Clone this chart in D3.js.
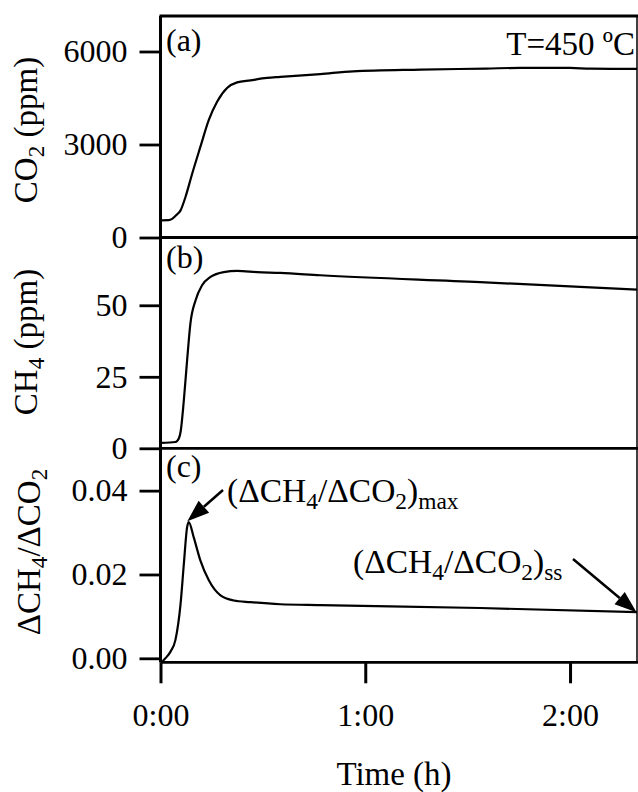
<!DOCTYPE html>
<html>
<head>
<meta charset="utf-8">
<script src="https://cdn.jsdelivr.net/npm/d3@7"></script>
<style>
  body { margin: 0; background: #fff; }
  text { font-family: "Liberation Serif", "Times New Roman", serif; fill: #000; }
</style>
</head>
<body>
<script>
const width = 638;
const height = 792;

// time in hours
const timeA = [0.005, 0.04, 0.057, 0.081, 0.098, 0.122, 0.155, 0.195, 0.236, 0.277, 0.325, 0.374, 0.439, 0.52, 0.585, 0.78, 0.94, 1.27, 1.59, 1.76, 2.0, 2.1, 2.327];
const co2 = [555, 560, 600, 746, 876, 1307, 2066, 2929, 3795, 4388, 4823, 5004, 5069, 5147, 5180, 5270, 5360, 5416, 5450, 5471, 5471, 5445, 5440];

const timeB = [0.005, 0.073, 0.09, 0.098, 0.114, 0.13, 0.146, 0.171, 0.203, 0.244, 0.309, 0.374, 0.472, 0.585, 0.78, 1.561, 2.327];
const ch4 = [1.9, 2.2, 3.5, 5.7, 16.8, 30.8, 43.6, 51.7, 57, 59.9, 61.6, 62, 61.6, 61.3, 60.5, 58.1, 55.5];

const timeC = [0.01, 0.024, 0.049, 0.073, 0.098, 0.114, 0.13, 0.138, 0.162, 0.195, 0.236, 0.293, 0.358, 0.439, 0.585, 0.78, 1.561, 2.327];
const ratio = [-0.0007, 0, 0.0016, 0.0044, 0.013, 0.0225, 0.0313, 0.0325, 0.0289, 0.0233, 0.0186, 0.015, 0.0138, 0.0134, 0.0129, 0.0127, 0.012, 0.011];

const xTicks = [0, 1, 2];
const xTickLabels = ["0:00", "1:00", "2:00"];
const co2Ticks = [0, 3000, 6000];
const ch4Ticks = [0, 25, 50];
const ratioTicks = [0, 0.02, 0.04];

const left = 160.5, right = 637;
const fontSize = 32;

const svg = d3.select("body").append("svg")
	.attr("width", width)
	.attr("height", height);

const x = d3.scaleLinear().domain([0, 2.327]).range([left, right]);

const panels = [
	{ id: "a", top: 16, bottom: 237.5, domain: [0, 7145], t: timeA, v: co2, ticks: co2Ticks, fmt: d3.format("d"), labelY: 35 },
	{ id: "b", top: 237.5, bottom: 448.3, domain: [0, 73.7], t: timeB, v: ch4, ticks: ch4Ticks, fmt: d3.format("d"), labelY: 30 },
	{ id: "c", top: 448.3, bottom: 662.3, domain: [-0.00095, 0.0501], t: timeC, v: ratio, ticks: ratioTicks, fmt: d3.format(".2f"), labelY: 29 }
];

panels.forEach(function (p) {
	p.y = d3.scaleLinear().domain(p.domain).range([p.bottom, p.top]);

	const ax = svg.append("g")
		.attr("transform", "translate(" + left + ",0)")
		.call(d3.axisLeft(p.y).tickValues(p.ticks).tickFormat(p.fmt).tickSize(21).tickPadding(12));
	ax.select(".domain").remove();
	ax.selectAll(".tick line").attr("stroke", "#000").attr("stroke-width", 2.8);
	ax.selectAll(".tick text").style("font-size", fontSize + "px").attr("fill", "#000");

	// panel bottom line
	svg.append("line")
		.attr("x1", left).attr("x2", right + 1)
		.attr("y1", p.bottom).attr("y2", p.bottom)
		.attr("stroke", "#000").attr("stroke-width", 2.8);

	const line = d3.line()
		.x(function (d, i) { return x(p.t[i]); })
		.y(function (d) { return p.y(d); })
		.curve(d3.curveMonotoneX);

	svg.append("path")
		.datum(p.v)
		.attr("d", line)
		.attr("fill", "none")
		.attr("stroke", "#000")
		.attr("stroke-width", 2.2);

	svg.append("text")
		.attr("x", 166)
		.attr("y", p.top + p.labelY)
		.style("font-size", fontSize + "px")
		.text("(" + p.id + ")");
});

// frame
svg.append("line").attr("x1", left - 1).attr("x2", right + 1).attr("y1", 16).attr("y2", 16)
	.attr("stroke", "#000").attr("stroke-width", 2.8);
svg.append("line").attr("x1", right).attr("x2", right).attr("y1", 16).attr("y2", 662)
	.attr("stroke", "#000").attr("stroke-width", 1.5);
svg.append("line").attr("x1", left).attr("x2", left).attr("y1", 16).attr("y2", 662.3)
	.attr("stroke", "#000").attr("stroke-width", 3);

// x axis
const xa = svg.append("g")
	.attr("transform", "translate(0,662.3)")
	.call(d3.axisBottom(x).tickValues(xTicks).tickFormat(function (d, i) { return xTickLabels[i]; }).tickSize(21).tickPadding(20));
xa.select(".domain").remove();
xa.selectAll(".tick line").attr("stroke", "#000").attr("stroke-width", 3);
xa.selectAll(".tick text").style("font-size", fontSize + "px").attr("fill", "#000");

svg.append("text")
	.attr("x", 394).attr("y", 785)
	.attr("text-anchor", "middle")
	.style("font-size", "33px")
	.text("Time (h)");

// text with subscripts; the baseline shift is undone on the next piece
function rich(sel, parts, size) {
	let shifted = 0;
	parts.forEach(function (p) {
		const ts = sel.append("tspan").text(p.t);
		if (p.sub) {
			ts.attr("dy", 7 - shifted).style("font-size", (size * 0.7) + "px");
			shifted = 7;
		} else if (shifted) {
			ts.attr("dy", -shifted);
			shifted = 0;
		}
	});
	return sel;
}

function yTitle(cx, cy, parts) {
	const t = svg.append("text")
		.attr("transform", "translate(" + cx + "," + cy + ") rotate(-90)")
		.attr("text-anchor", "middle")
		.style("font-size", "33px");
	rich(t, parts, 33);
}

yTitle(37, 130, [{ t: "CO" }, { t: "2", sub: true }, { t: " (ppm)" }]);
yTitle(37, 342, [{ t: "CH" }, { t: "4", sub: true }, { t: " (ppm)" }]);
yTitle(40, 552, [{ t: "\u0394CH" }, { t: "4", sub: true }, { t: "/\u0394CO" }, { t: "2", sub: true }]);

svg.append("text")
	.attr("x", 635).attr("y", 55)
	.attr("text-anchor", "end")
	.style("font-size", "33px")
	.text("T=450 \u00baC");

const yc = panels[2].y;
const annSize = 33.5;

rich(svg.append("text").attr("x", 227).attr("y", 502).style("font-size", annSize + "px"),
	[{ t: "(\u0394CH" }, { t: "4", sub: true }, { t: "/\u0394CO" }, { t: "2", sub: true }, { t: ")" }, { t: "max", sub: true }], annSize);
rich(svg.append("text").attr("x", 353).attr("y", 573).style("font-size", annSize + "px"),
	[{ t: "(\u0394CH" }, { t: "4", sub: true }, { t: "/\u0394CO" }, { t: "2", sub: true }, { t: ")" }, { t: "ss", sub: true }], annSize);

function arrow(tx, ty, fx, fy) {
	const dx = tx - fx, dy = ty - fy;
	const len = Math.sqrt(dx * dx + dy * dy);
	const ux = dx / len, uy = dy / len;
	const headL = 22, headW = 8;
	const bx = tx - ux * headL, by = ty - uy * headL;
	svg.append("line")
		.attr("x1", fx).attr("y1", fy).attr("x2", bx).attr("y2", by)
		.attr("stroke", "#000").attr("stroke-width", 2.5);
	svg.append("path")
		.attr("d", "M" + tx + "," + ty + "L" + (bx - uy * headW) + "," + (by + ux * headW) + "L" + (bx + uy * headW) + "," + (by - ux * headW) + "Z")
		.attr("fill", "#000");
}

arrow(x(0.131), yc(0.0327), 223, 490);
arrow(x(2.327) - 0.5, yc(0.011), 573, 559);
</script>
</body>
</html>
